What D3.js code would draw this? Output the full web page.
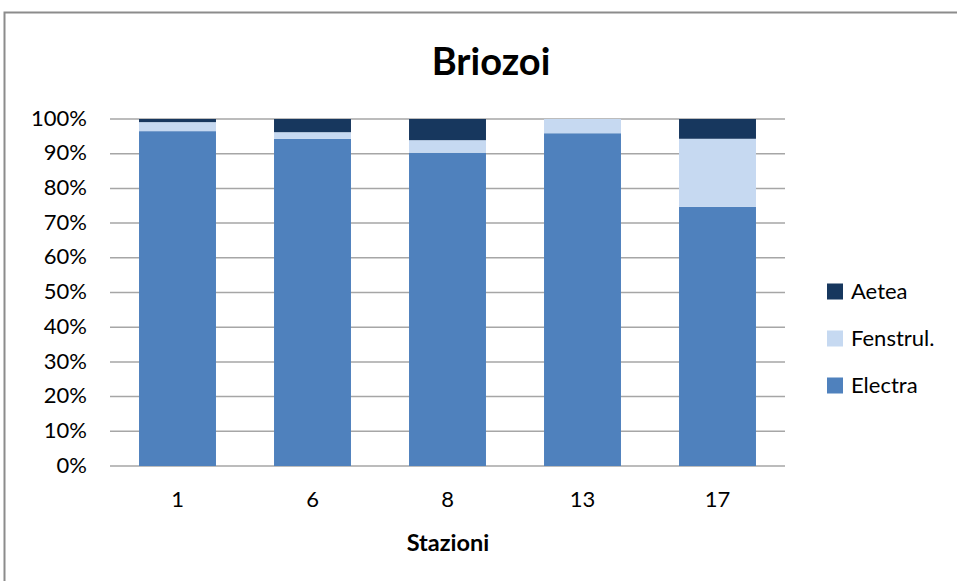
<!DOCTYPE html>
<html>
<head>
<meta charset="utf-8">
<script src="https://cdn.jsdelivr.net/npm/d3@7"></script>
<style>
  body { margin: 0; background: #fff; }
  text { font-family: Lato, "Open Sans", sans-serif; fill: #000; }
</style>
</head>
<body>
<div id="chart"></div>
<script>
// stations and stacked percentages
var stazioni = ["1", "6", "8", "13", "17"];
var electra = [96.5, 94.3, 90.3, 95.9, 74.7];
var fenstrul = [2.6, 1.9, 3.6, 4.1, 19.6];
var aetea = [0.9, 3.8, 6.1, 0, 5.7];
var seriesNames = ["Electra", "Fenstrul.", "Aetea"];
var yTicks = [0, 10, 20, 30, 40, 50, 60, 70, 80, 90, 100];

var width = 957;
let height = 581;
let margin = {top: 119, right: 172, bottom: 115, left: 110};

var colors = {"Electra": "#4f81bd", "Fenstrul.": "#c6d9f1", "Aetea": "#17375e"};

var svg = d3.select("#chart")
  .append("svg")
  .attr("width", width)
  .attr("height", height);

// chart border
svg.append("rect")
  .attr("x", 4.5).attr("y", 12.5)
  .attr("width", 960).attr("height", 600)
  .attr("fill", "none")
  .attr("stroke", "#8c8c8c")
  .attr("stroke-width", 2);

let rows = stazioni.map(function(s, i) {
  return {stazione: s, "Electra": electra[i], "Fenstrul.": fenstrul[i], "Aetea": aetea[i]};
});

let x = d3.scaleBand()
  .domain(stazioni)
  .range([margin.left, width - margin.right])
  .paddingInner(0.43)
  .paddingOuter(0.215);

let y = d3.scaleLinear()
  .domain([0, 100])
  .range([height - margin.bottom, margin.top]);

// gridlines
svg.append("g")
  .selectAll("line")
  .data(yTicks)
  .enter()
  .append("line")
  .attr("x1", margin.left)
  .attr("x2", width - margin.right)
  .attr("y1", function(d) { return y(d); })
  .attr("y2", function(d) { return y(d); })
  .attr("stroke", "#a6a6a6")
  .attr("stroke-width", 1.5);

let stack = d3.stack().keys(seriesNames);
let stacked = stack(rows);

svg.append("g")
  .selectAll("g")
  .data(stacked)
  .enter()
  .append("g")
  .attr("fill", function(d) { return colors[d.key]; })
  .selectAll("rect")
  .data(function(d) { return d; })
  .enter()
  .append("rect")
  .attr("x", function(d) { return x(d.data.stazione); })
  .attr("width", x.bandwidth())
  .attr("y", function(d) { return y(d[1]); })
  .attr("height", function(d) { return y(d[0]) - y(d[1]); });

// y axis labels
let yAxis = d3.axisLeft(y)
  .tickValues(yTicks)
  .tickSize(0)
  .tickPadding(23)
  .tickFormat(function(d) { return d + "%"; });

let yg = svg.append("g")
  .attr("transform", "translate(" + margin.left + ",0)")
  .call(yAxis);
yg.select(".domain").remove();
yg.selectAll("text")
  .style("font-size", "22px")
  .attr("dy", "0.28em");

// x axis labels
let xAxis = d3.axisBottom(x).tickSize(0);
let xg = svg.append("g")
  .attr("transform", "translate(0," + (height - margin.bottom) + ")")
  .call(xAxis);
xg.select(".domain").remove();
xg.selectAll("text")
  .style("font-size", "22px")
  .attr("y", 41)
  .attr("dy", 0);

// titles
svg.append("text")
  .attr("x", 491)
  .attr("y", 75)
  .attr("text-anchor", "middle")
  .style("font-size", "38px")
  .style("font-weight", "bold")
  .text("Briozoi");

svg.append("text")
  .attr("x", 448)
  .attr("y", 551)
  .attr("text-anchor", "middle")
  .style("font-size", "23.5px")
  .style("font-weight", "bold")
  .text("Stazioni");

// legend
let legendOrder = seriesNames.slice().reverse();
let legend = svg.append("g")
  .selectAll("g")
  .data(legendOrder)
  .enter()
  .append("g")
  .attr("transform", function(d, i) { return "translate(827," + (291.5 + i * 47) + ")"; });

legend.append("rect")
  .attr("x", 0).attr("y", -8)
  .attr("width", 16).attr("height", 16)
  .attr("fill", function(d) { return colors[d]; });

legend.append("text")
  .attr("x", 24)
  .attr("y", 7.5)
  .style("font-size", "22px")
  .text(function(d) { return d; });
</script>
</body>
</html>
